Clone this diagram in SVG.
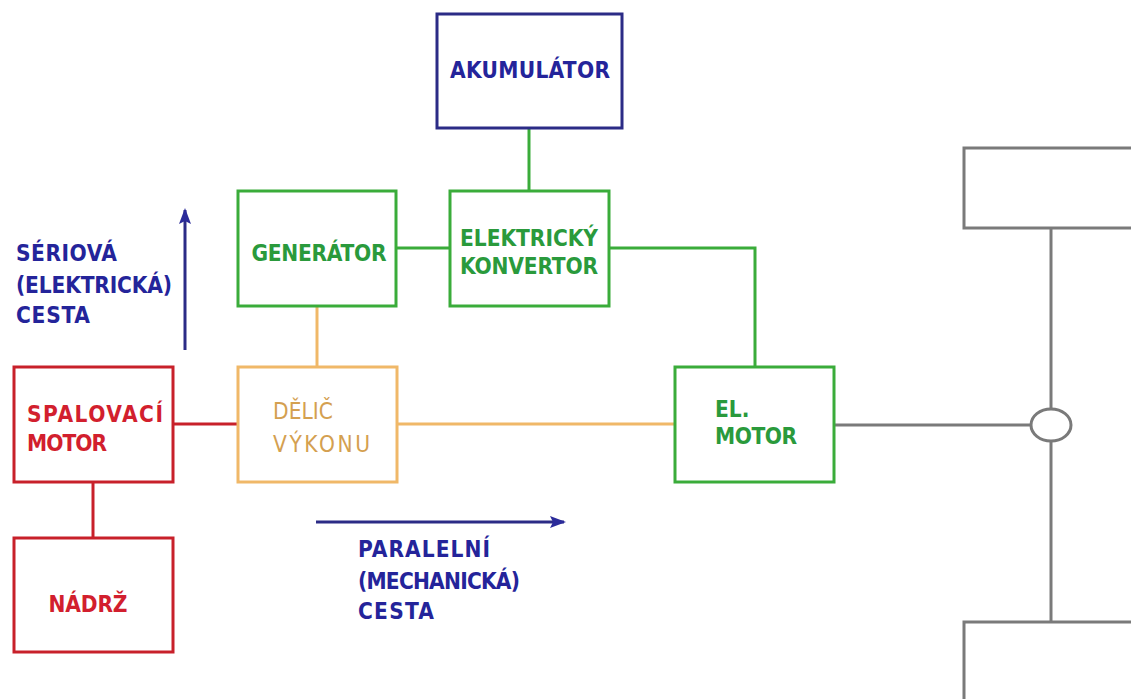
<svg xmlns="http://www.w3.org/2000/svg" width="1131" height="699" viewBox="0 0 1131 699">
<style>
text{font-family:"DejaVu Sans Condensed","DejaVu Sans",sans-serif;font-weight:bold;font-size:22.5px}
.box{fill:#fff;stroke-width:3}
.blue{stroke:#2b2b86}.green{stroke:#3aac3a}.red{stroke:#c8202a}.orange{stroke:#f0b868}.gray{stroke:#7a7a7a}
.tb{fill:#24249a}.tg{fill:#2a9a3c}.tr{fill:#d21f2e}.to{fill:#d4a050;font-weight:normal}
.c{fill:none;stroke-width:3}
</style>
<defs>
<marker id="ah2" markerWidth="16" markerHeight="12" refX="14" refY="6" orient="auto" markerUnits="userSpaceOnUse"><path d="M0,0 L16,6 L0,12 L3,6 Z" fill="#2b2b9a"/></marker>
</defs>
<rect width="1131" height="699" fill="#fff"/>
<g id="connectors">
<line class="c green" x1="529" y1="128" x2="529" y2="191"/>
<line class="c green" x1="396" y1="248" x2="450" y2="248"/>
<polyline class="c green" points="609,248 755,248 755,367"/>
<line class="c orange" x1="317" y1="306" x2="317" y2="367"/>
<line class="c red" x1="173" y1="424" x2="238" y2="424"/>
<line class="c orange" x1="397" y1="424" x2="675" y2="424"/>
<line class="c red" x1="93" y1="482" x2="93" y2="538"/>
<line class="c gray" x1="834" y1="425" x2="1031" y2="425"/>
<line class="c gray" x1="1051" y1="228" x2="1051" y2="409"/>
<line class="c gray" x1="1051" y1="441" x2="1051" y2="622"/>
<line x1="185" y1="350" x2="185" y2="210" stroke="#2b2b86" stroke-width="3" marker-end="url(#ah2)"/>
<line x1="316" y1="522" x2="564" y2="522" stroke="#2b2b86" stroke-width="3" marker-end="url(#ah2)"/>
</g>
<g id="akumulator"><rect class="box blue" x="437" y="14" width="185" height="114"/><text class="tb" x="530" y="78" text-anchor="middle" textLength="160" lengthAdjust="spacing">AKUMULÁTOR</text></g>
<g id="generator"><rect class="box green" x="238" y="191" width="158" height="115"/><text class="tg" x="319" y="261" text-anchor="middle" textLength="135" lengthAdjust="spacing">GENERÁTOR</text></g>
<g id="konvertor"><rect class="box green" x="450" y="191" width="159" height="115"/><text class="tg" x="460" y="246" textLength="138" lengthAdjust="spacing">ELEKTRICKÝ</text><text class="tg" x="460" y="274" textLength="138" lengthAdjust="spacing">KONVERTOR</text></g>
<g id="spalovaci"><rect class="box red" x="14" y="367" width="159" height="115"/><text class="tr" x="27" y="422" textLength="136" lengthAdjust="spacing">SPALOVACÍ</text><text class="tr" x="27" y="451" textLength="80" lengthAdjust="spacing">MOTOR</text></g>
<g id="delic"><rect class="box orange" x="238" y="367" width="159" height="115"/><text class="to" x="273" y="419" textLength="60" lengthAdjust="spacing">DĚLIČ</text><text class="to" x="273" y="452" textLength="97" lengthAdjust="spacing">VÝKONU</text></g>
<g id="elmotor"><rect class="box green" x="675" y="367" width="159" height="115"/><text class="tg" x="715" y="417">EL.</text><text class="tg" x="715" y="444" textLength="82" lengthAdjust="spacing">MOTOR</text></g>
<g id="nadrz"><rect class="box red" x="14" y="538" width="159" height="114"/><text class="tr" x="88" y="612" text-anchor="middle" textLength="79" lengthAdjust="spacing">NÁDRŽ</text></g>
<g id="wheel-top"><rect class="box gray" x="964" y="148" width="180" height="80"/></g>
<g id="wheel-bottom"><rect class="box gray" x="964" y="622" width="180" height="90"/></g>
<g id="joint"><ellipse class="box gray" cx="1051" cy="425" rx="20" ry="16"/></g>
<g id="label-serial"><text class="tb" x="16" y="261" textLength="101" lengthAdjust="spacing">SÉRIOVÁ</text><text class="tb" x="16" y="293" textLength="156" lengthAdjust="spacing">(ELEKTRICKÁ)</text><text class="tb" x="16" y="323" textLength="74" lengthAdjust="spacing">CESTA</text></g>
<g id="label-parallel"><text class="tb" x="358" y="557" textLength="132" lengthAdjust="spacing">PARALELNÍ</text><text class="tb" x="358" y="589" textLength="162" lengthAdjust="spacing">(MECHANICKÁ)</text><text class="tb" x="358" y="619" textLength="76" lengthAdjust="spacing">CESTA</text></g>
</svg>
